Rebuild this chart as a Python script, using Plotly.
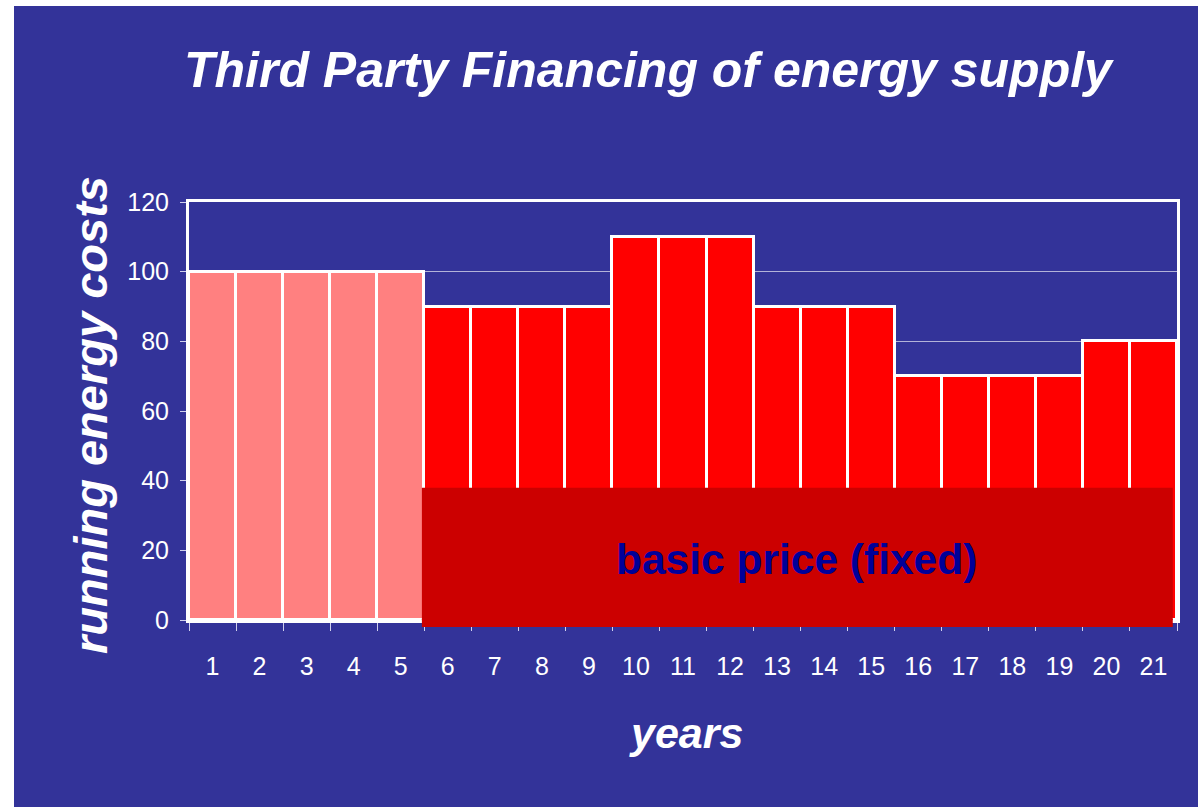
import plotly.graph_objects as go

years = [str(i) for i in range(1, 22)]
costs = [100, 100, 100, 100, 100, 90, 90, 90, 90, 110, 110, 110, 90, 90, 90, 70, 70, 70, 70, 80, 80]
phase = ["before"] * 5 + ["tpf"] * 16
basic_price = 38
basic_label = "basic price (fixed)"
y_ticks = [0, 20, 40, 60, 80, 100, 120]

BG = "#333399"
colors = ["#FF8080" if p == "before" else "#FF0000" for p in phase]

W, H = 1198, 807
L, R, T, B = 189, 21, 202, 187
PW, PH = W - L - R, H - T - B

def px(x):
    return (x - L) / PW

def py(y):
    return (H - B - y) / PH

fig = go.Figure()
fig.add_trace(go.Bar(
    x=years, y=costs,
    marker=dict(color=colors, line=dict(color="white", width=3)),
    width=1.0, showlegend=False, hoverinfo="x+y",
))

font_main = "Arial, 'Liberation Sans', sans-serif"

fig.update_layout(
    width=W, height=H,
    margin=dict(l=L, r=R, t=T, b=B, pad=0),
    paper_bgcolor="white",
    plot_bgcolor=BG,
    bargap=0,
    font=dict(family=font_main, color="white"),
    xaxis=dict(
        type="category", tickson="boundaries", ticks="outside", ticklen=8,
        tickcolor="#D0D0EE", tickwidth=1,
        showline=True, linecolor="white", linewidth=3, mirror=True,
        showgrid=False, tickfont=dict(size=25, color="white"),
        ticklabelstandoff=22, range=[-0.5, 20.5],
    ),
    yaxis=dict(
        range=[0, 120], tickvals=y_ticks, ticks="outside", ticklen=6,
        tickcolor="#D0D0EE", tickwidth=1,
        showline=True, linecolor="white", linewidth=3, mirror=True,
        showgrid=True, gridcolor="#B3B3D9", gridwidth=1, zeroline=False,
        tickfont=dict(size=25, color="white"), ticklabelstandoff=6,
    ),
    shapes=[
        dict(type="rect", xref="paper", yref="paper", layer="below",
             x0=px(14), x1=px(W), y0=py(H), y1=py(6),
             fillcolor=BG, line=dict(width=0)),
        dict(type="rect", xref="x", yref="y", layer="above",
             x0=4.45, x1=20.41, y0=0, y1=basic_price,
             fillcolor="#CC0000", line=dict(width=0)),
        dict(type="rect", xref="x", yref="paper", layer="above",
             x0=4.45, x1=20.41, y0=py(627), y1=py(619),
             fillcolor="#CC0000", line=dict(width=0)),
    ],
    annotations=[
        dict(text="<b><i>Third Party Financing of energy supply</i></b>",
             xref="paper", yref="paper", x=px(649), y=py(70),
             xanchor="center", yanchor="middle", showarrow=False,
             font=dict(size=50, color="white", family=font_main)),
        dict(text="<b><i>running energy costs</i></b>",
             xref="paper", yref="paper", x=px(90), y=py(415), textangle=-90,
             xanchor="center", yanchor="middle", showarrow=False,
             font=dict(size=47, color="white", family=font_main)),
        dict(text="<b><i>years</i></b>",
             xref="paper", yref="paper", x=px(686), y=py(733),
             xanchor="center", yanchor="middle", showarrow=False,
             font=dict(size=43, color="white", family=font_main)),
        dict(text="<b>" + basic_label + "</b>",
             xref="x", yref="y", x=12.42, y=17.3,
             xanchor="center", yanchor="middle", showarrow=False,
             font=dict(size=42.5, color="#000099", family=font_main)),
    ],
)

fig.write_html(
    "out.html",
    config={"displayModeBar": False},
    post_script="document.body.style.margin='0';document.body.style.overflow='hidden';",
)
